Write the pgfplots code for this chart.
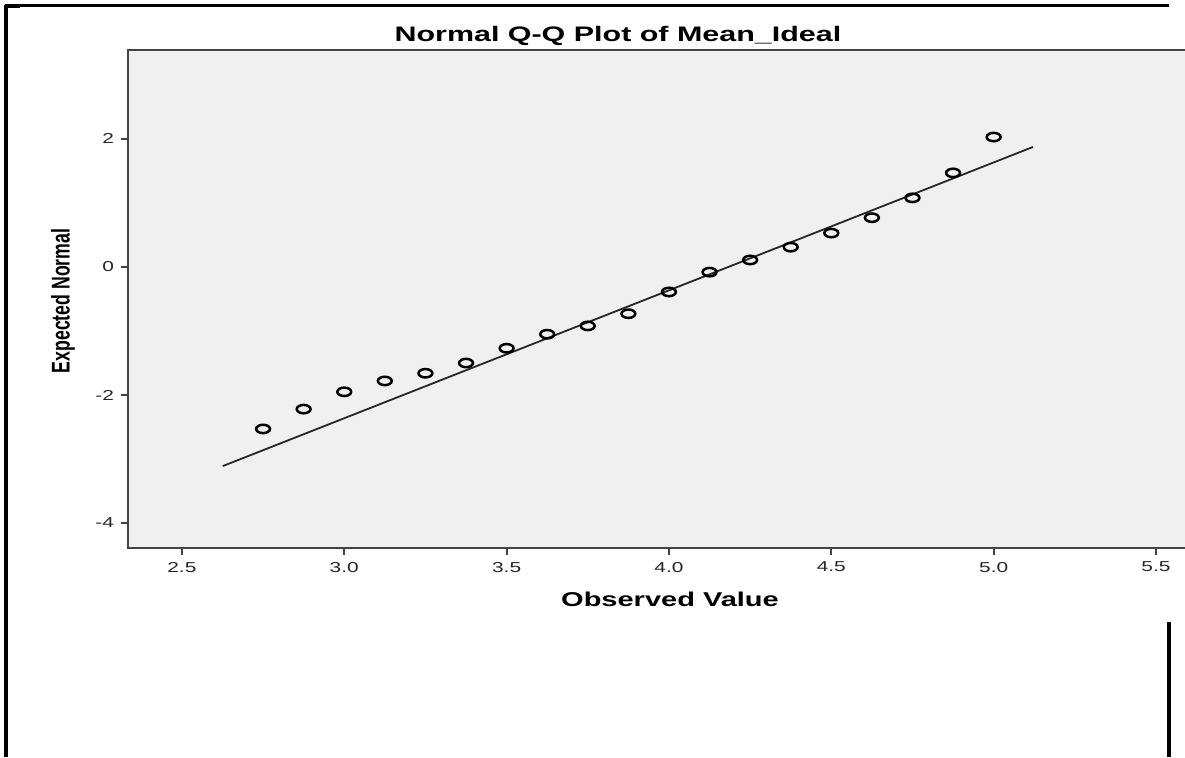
\documentclass[border=0pt]{standalone}
\usepackage{pgfplots}
\pgfplotsset{compat=1.18}
\usepackage{fontspec}
\setmainfont{Liberation Sans}[FakeStretch=1.45]
\newfontfamily\ylfont{Liberation Sans}
\definecolor{bgc}{HTML}{F0F0F0}
\definecolor{axc}{HTML}{444444}
\begin{document}
\begin{tikzpicture}[x=0.5pt,y=0.5pt]
\path[use as bounding box, clip] (0,0) rectangle (1185,757);
\fill[white] (0,0) rectangle (1185,757);
\begin{axis}[
  at={(64pt,104.5pt)}, anchor=south west,
  scale only axis, width=536pt, height=249pt,
  xmin=2.334, xmax=5.6355, ymin=-4.39, ymax=3.39,
  axis background/.style={fill=bgc},
  axis line style={axc, line width=1pt},
  xtick={2.5,3.0,3.5,4.0,4.5,5.0,5.5},
  ytick={-4,-2,0,2},
  xticklabel style={/pgf/number format/fixed,/pgf/number format/fixed zerofill,/pgf/number format/precision=1},
  /pgf/number format/assume math mode=true,
  tick label style={font=\fontsize{7.2pt}{8pt}\selectfont, color=black!85},
  major tick length=3.5pt,
  tick style={axc, line width=0.9pt},
  tick align=outside,
  xtick pos=bottom, ytick pos=left,
  clip=false,
  title={\bfseries Normal Q-Q Plot of Mean\_Ideal},
  title style={font=\fontsize{10.5pt}{12pt}\selectfont, at={(axis description cs:0.457,1.004)}, anchor=center, yshift=0pt},
  xlabel={\bfseries Observed Value},
  xlabel style={font=\fontsize{10pt}{11pt}\selectfont, at={(axis description cs:0.5056,-0.104)}, anchor=center},
  ylabel={\scalebox{1}[1.45]{\ylfont\bfseries Expected Normal}},
  ylabel style={font=\fontsize{8.85pt}{10pt}\selectfont, at={(axis description cs:-0.0606,0.496)}, anchor=center, rotate=0},
]
\addplot[black!85, line width=0.9pt] coordinates {(2.626,-3.11) (5.121,1.875)};
\addplot[only marks, mark=o, mark size=2.1pt, mark options={black, line width=1.25pt, fill=bgc, xscale=1.65}] coordinates {
(2.75,-2.53) (2.875,-2.22) (3.0,-1.95) (3.125,-1.78) (3.25,-1.66) (3.375,-1.50)
(3.5,-1.27) (3.625,-1.05) (3.75,-0.92) (3.875,-0.73) (4.0,-0.39) (4.125,-0.08)
(4.25,0.11) (4.375,0.31) (4.5,0.53) (4.625,0.77) (4.75,1.08) (4.875,1.47) (5.0,2.03)};
\end{axis}
\draw[black, line width=1.5pt] (5,751) -- (1169,751);
\draw[black, line width=2pt] (6,752) -- (6,0);
\draw[black, line width=2pt] (6,751) -- (20,751);
\draw[black, line width=2pt] (1169,135) -- (1169,0);
\end{tikzpicture}
\end{document}
